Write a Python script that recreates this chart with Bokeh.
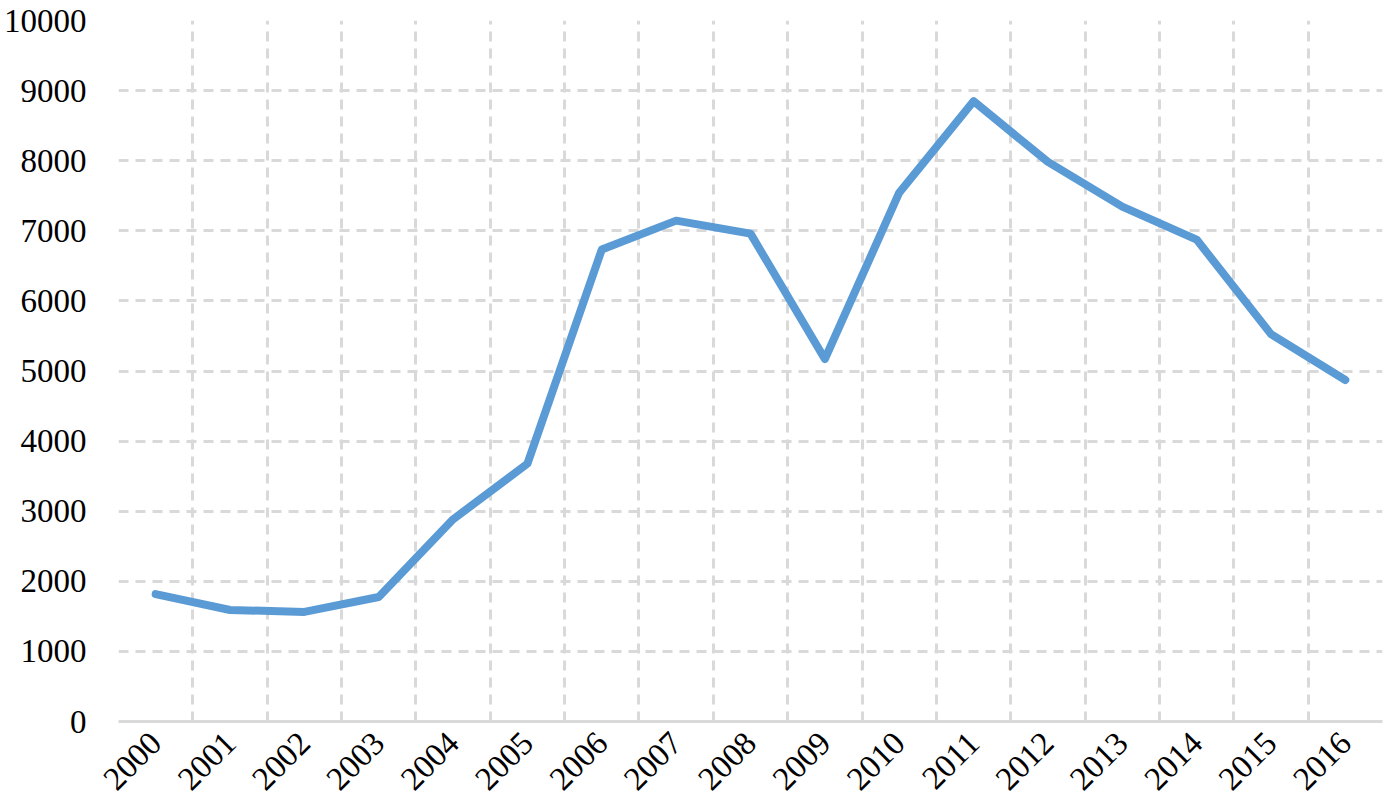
import math
from bokeh.plotting import figure
from bokeh.models import FixedTicker, Range1d, ColumnDataSource
from bokeh.embed import file_html
from bokeh.resources import INLINE

years = ["2000", "2001", "2002", "2003", "2004", "2005", "2006", "2007", "2008",
         "2009", "2010", "2011", "2012", "2013", "2014", "2015", "2016"]
values = [1818, 1591, 1563, 1776, 2884, 3679, 6733, 7145, 6960,
          5170, 7543, 8849, 7983, 7344, 6875, 5526, 4872]
y_ticks = [0, 1000, 2000, 3000, 4000, 5000, 6000, 7000, 8000, 9000, 10000]

n = len(years)
xs = [i + 0.5 for i in range(n)]
src = ColumnDataSource(dict(x=xs, y=values, year=years))

p = figure(width=1384, height=802, output_backend="svg", toolbar_location=None,
           x_range=Range1d(0, n), y_range=Range1d(0, 10000),
           min_border_left=110, min_border_right=2, min_border_top=20, min_border_bottom=80)
p.outline_line_color = None
p.background_fill_color = "white"
p.border_fill_color = "white"

FONT = "Liberation Serif"

# x axis
p.xaxis.ticker = FixedTicker(ticks=xs)
p.xaxis.major_label_overrides = {x: y for x, y in zip(xs, years)}
p.xaxis.major_label_orientation = math.pi / 4
p.xaxis.major_label_text_font = FONT
p.xaxis.major_label_text_font_size = "33px"
p.xaxis.major_label_text_color = "black"
p.xaxis.axis_line_color = "#D9D9D9"
p.xaxis.axis_line_width = 3
p.xaxis.major_tick_line_color = None
p.xaxis.minor_tick_line_color = None
p.xaxis.major_label_standoff = 10

# y axis
p.yaxis.ticker = FixedTicker(ticks=y_ticks)
p.yaxis.major_label_text_font = FONT
p.yaxis.major_label_text_font_size = "33px"
p.yaxis.major_label_text_color = "black"
p.yaxis.axis_line_color = None
p.yaxis.major_tick_line_color = None
p.yaxis.minor_tick_line_color = None
p.yaxis.major_label_standoff = 26

# grids
p.xgrid.ticker = FixedTicker(ticks=list(range(n + 1)))
p.xgrid.grid_line_color = "#D9D9D9"
p.xgrid.grid_line_width = 3
p.xgrid.grid_line_dash = "10 7"
p.ygrid.ticker = FixedTicker(ticks=y_ticks[1:])
p.ygrid.grid_line_color = "#D9D9D9"
p.ygrid.grid_line_width = 3
p.ygrid.grid_line_dash = "10 7"

p.line("x", "y", source=src, line_color="#5B9BD5", line_width=8, line_join="round", line_cap="round")

open("out.html", "w").write(file_html(p, INLINE))
